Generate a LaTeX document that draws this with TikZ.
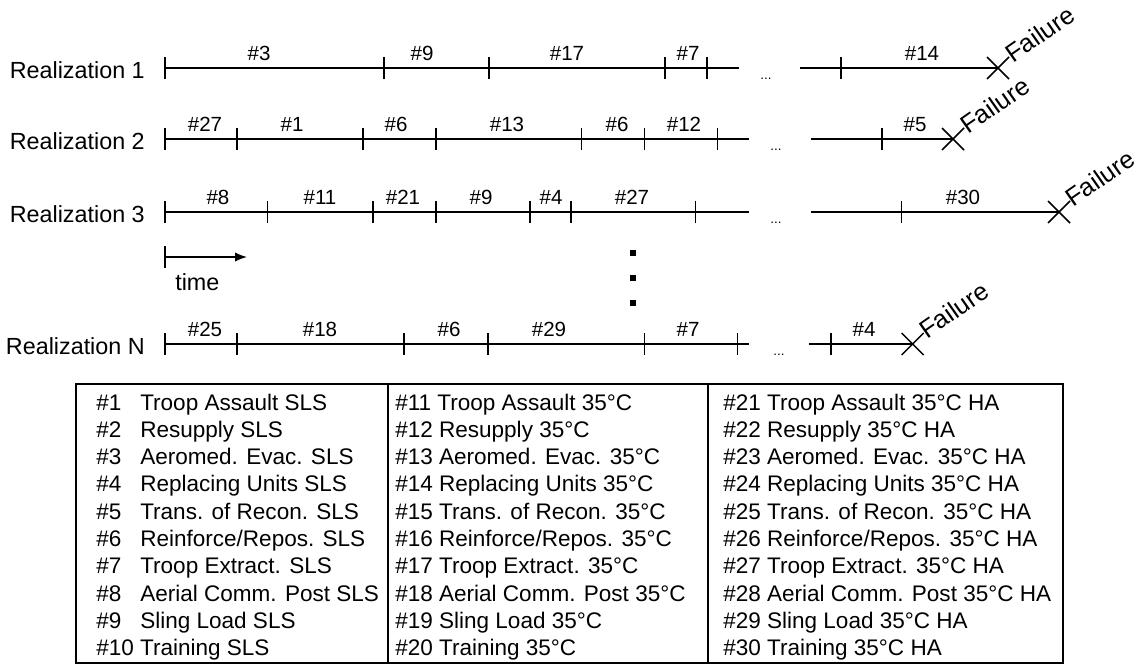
\documentclass[tikz,border=0pt]{standalone}
\usepackage{fontspec}
\setmainfont{Liberation Sans}
\usetikzlibrary{arrows.meta}
\newcommand\mytick[1]{\draw[tk] ([yshift=8.25pt]#1) -- ([yshift=-8.25pt]#1);}
\newcommand\myfail[1]{\draw[xmk] ([shift={(-8.25pt,-8.25pt)}]#1) -- ([shift={(8.25pt,8.25pt)}]#1) ([shift={(-8.25pt,8.25pt)}]#1) -- ([shift={(8.25pt,-8.25pt)}]#1);}
\begin{document}
\begin{tikzpicture}[x=0.75pt,y=-0.75pt,
 tl/.style={line width=1.1pt},
 tk/.style={line width=1pt},
 xmk/.style={line width=1.1pt},
 rlab/.style={font=\fontsize{17.5}{20}\selectfont, anchor=east, inner sep=0pt},
 slab/.style={font=\fontsize{15.4}{18}\selectfont, anchor=base, inner sep=0pt},
 flab/.style={font=\fontsize{19}{22}\selectfont, anchor=base west, rotate=35, inner sep=0pt},
 ddd/.style={font=\fontsize{10}{11}\selectfont, anchor=base, inner sep=0pt},
 tab/.style={font=\fontsize{16.9}{20}\selectfont, anchor=base west, inner sep=0pt},
 sq/.style={fill=black, minimum size=4.8pt, inner sep=0pt},
]
\useasboundingbox (0,0) rectangle (1142,665);

% ---------- Row 1 ----------
\node[rlab] (R1) at (145,70) {Realization 1};
\coordinate (r1s) at (165,68);
\coordinate (r1e) at (739,68);
\coordinate (r1c) at (800,68);
\coordinate (r1x) at (998,68);
\draw[tl] (r1s) -- (r1e);
\draw[tl] (r1c) -- (r1x);
\mytick{r1s}
\foreach \t in {384,489,665,707,841} {\coordinate (t) at (\t,68); \mytick{t}}
\myfail{r1x}
\node[flab] (F1) at (1013,64) {Failure};
\node[ddd] (d1) at (766,79) {...};
\node[slab] (l1a) at (259,60) {\#3};
\node[slab] (l1b) at (422,60) {\#9};
\node[slab] (l1c) at (567,60) {\#17};
\node[slab] (l1d) at (688,60) {\#7};
\node[slab] (l1e) at (922,60) {\#14};

% ---------- Row 2 ----------
\node[rlab] (R2) at (145,141) {Realization 2};
\coordinate (r2s) at (165,139);
\coordinate (r2e) at (749,139);
\coordinate (r2c) at (811,139);
\coordinate (r2x) at (953,139);
\draw[tl] (r2s) -- (r2e);
\draw[tl] (r2c) -- (r2x);
\mytick{r2s}
\foreach \t in {237,363,436,581.5,644.6,717.4,882} {\coordinate (t) at (\t,139); \mytick{t}}
\myfail{r2x}
\node[flab] (F2) at (968,135) {Failure};
\node[ddd] (d2) at (776,150) {...};
\node[slab] (l2a) at (205,131) {\#27};
\node[slab] (l2b) at (292,131) {\#1};
\node[slab] (l2c) at (396,131) {\#6};
\node[slab] (l2d) at (507,131) {\#13};
\node[slab] (l2e) at (617,131) {\#6};
\node[slab] (l2f) at (684,131) {\#12};
\node[slab] (l2g) at (915,131) {\#5};

% ---------- Row 3 ----------
\node[rlab] (R3) at (145,214) {Realization 3};
\coordinate (r3s) at (165,212);
\coordinate (r3e) at (749,212);
\coordinate (r3c) at (811,212);
\coordinate (r3x) at (1059,212);
\draw[tl] (r3s) -- (r3e);
\draw[tl] (r3c) -- (r3x);
\mytick{r3s}
\foreach \t in {267.5,373,436,530,571,695.5,901.5} {\coordinate (t) at (\t,212); \mytick{t}}
\myfail{r3x}
\node[flab] (F3) at (1073,208) {Failure};
\node[ddd] (d3) at (776,223) {...};
\node[slab] (l3a) at (218,204) {\#8};
\node[slab] (l3b) at (320,204) {\#11};
\node[slab] (l3c) at (403,204) {\#21};
\node[slab] (l3d) at (481,204) {\#9};
\node[slab] (l3e) at (551,204) {\#4};
\node[slab] (l3f) at (632,204) {\#27};
\node[slab] (l3g) at (963,204) {\#30};

% ---------- time arrow ----------
\coordinate (ts) at (165,257);
\coordinate (te) at (247,257);
\draw[tl,-{Latex[length=9pt,width=7pt]}] (ts) -- (te);
\mytick{ts}
\node[font=\fontsize{17.5}{20}\selectfont, anchor=west, inner sep=0pt] (time) at (175,282) {time};

% ---------- vertical dots ----------
\node[sq] (v1) at (633,253) {};
\node[sq] (v2) at (633,278) {};
\node[sq] (v3) at (633,303) {};

% ---------- Row N ----------
\node[rlab] (RN) at (145,346) {Realization N};
\coordinate (rNs) at (165,344);
\coordinate (rNe) at (749,344);
\coordinate (rNc) at (809,344);
\coordinate (rNx) at (912.6,344);
\draw[tl] (rNs) -- (rNe);
\draw[tl] (rNc) -- (rNx);
\mytick{rNs}
\foreach \t in {237,404,488,644.6,737.4,831} {\coordinate (t) at (\t,344); \mytick{t}}
\myfail{rNx}
\node[flab] (FN) at (927,340) {Failure};
\node[ddd] (dN) at (779,355) {...};
\node[slab] (lNa) at (205,336) {\#25};
\node[slab] (lNb) at (320,336) {\#18};
\node[slab] (lNc) at (449,336) {\#6};
\node[slab] (lNd) at (549,336) {\#29};
\node[slab] (lNe) at (688,336) {\#7};
\node[slab] (lNf) at (864,336) {\#4};

% ---------- legend table ----------
\draw[line width=0.9pt] (76,384) rectangle (1063,663);
\draw[line width=0.9pt] (388,384) -- (388,663);
\draw[line width=0.9pt] (708,384) -- (708,663);

\node[tab] (n1) at (96,410) {\#1};
\node[tab] (n2) at (96,437.3) {\#2};
\node[tab] (n3) at (96,464.6) {\#3};
\node[tab] (n4) at (96,491.9) {\#4};
\node[tab] (n5) at (96,519.2) {\#5};
\node[tab] (n6) at (96,546.5) {\#6};
\node[tab] (n7) at (96,573.8) {\#7};
\node[tab] (n8) at (96,601.1) {\#8};
\node[tab] (n9) at (96,628.4) {\#9};
\node[tab] (t1) at (140,410) {Troop Assault SLS};
\node[tab] (t2) at (140,437.3) {Resupply SLS};
\node[tab] (t3) at (140,464.6) {Aeromed. Evac. SLS};
\node[tab] (t4) at (140,491.9) {Replacing Units SLS};
\node[tab] (t5) at (140,519.2) {Trans. of Recon. SLS};
\node[tab] (t6) at (140,546.5) {Reinforce/Repos. SLS};
\node[tab] (t7) at (140,573.8) {Troop Extract. SLS};
\node[tab] (t8) at (140,601.1) {Aerial Comm. Post SLS};
\node[tab] (t9) at (140,628.4) {Sling Load SLS};
\node[tab] (t10) at (96,655.7) {\#10 Training SLS};

\node[tab] (t11) at (395,410) {\#11 Troop Assault 35°C};
\node[tab] (t12) at (395,437.3) {\#12 Resupply 35°C};
\node[tab] (t13) at (395,464.6) {\#13 Aeromed. Evac. 35°C};
\node[tab] (t14) at (395,491.9) {\#14 Replacing Units 35°C};
\node[tab] (t15) at (395,519.2) {\#15 Trans. of Recon. 35°C};
\node[tab] (t16) at (395,546.5) {\#16 Reinforce/Repos. 35°C};
\node[tab] (t17) at (395,573.8) {\#17 Troop Extract. 35°C};
\node[tab] (t18) at (395,601.1) {\#18 Aerial Comm. Post 35°C};
\node[tab] (t19) at (395,628.4) {\#19 Sling Load 35°C};
\node[tab] (t20) at (395,655.7) {\#20 Training 35°C};

\node[tab] (t21) at (723,410) {\#21 Troop Assault 35°C HA};
\node[tab] (t22) at (723,437.3) {\#22 Resupply 35°C HA};
\node[tab] (t23) at (723,464.6) {\#23 Aeromed. Evac. 35°C HA};
\node[tab] (t24) at (723,491.9) {\#24 Replacing Units 35°C HA};
\node[tab] (t25) at (723,519.2) {\#25 Trans. of Recon. 35°C HA};
\node[tab] (t26) at (723,546.5) {\#26 Reinforce/Repos. 35°C HA};
\node[tab] (t27) at (723,573.8) {\#27 Troop Extract. 35°C HA};
\node[tab] (t28) at (723,601.1) {\#28 Aerial Comm. Post 35°C HA};
\node[tab] (t29) at (723,628.4) {\#29 Sling Load 35°C HA};
\node[tab] (t30) at (723,655.7) {\#30 Training 35°C HA};
\end{tikzpicture}
\end{document}
